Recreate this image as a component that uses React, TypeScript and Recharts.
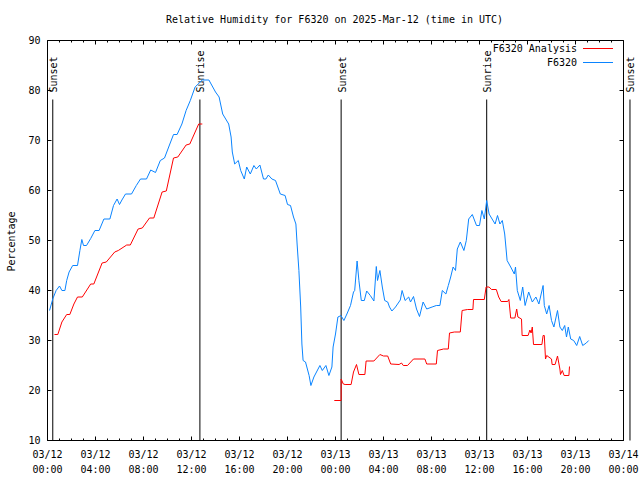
import React from 'react';
import { LineChart, Line, XAxis, YAxis, ReferenceLine, Legend, Label } from 'recharts';

const FONT = '"DejaVu Sans Mono", "Liberation Mono", monospace';

// Observed F6320 (hours since 03/12 00:00 UTC, relative humidity %)
const obsHours = [
  0.17, 0.45, 0.72, 1.0, 1.2, 1.45, 1.6, 1.8, 2.1, 2.5, 2.7, 2.86, 3.0, 3.25, 3.6, 3.95, 4.3, 4.7, 5.2, 5.5,
  5.8, 6.0, 6.2, 6.5, 7.0, 7.4, 7.75, 8.25, 8.6, 9.0, 9.4, 9.75, 10.1, 10.5, 10.8, 11.2, 11.55, 11.9, 12.3, 12.9,
  13.45, 14.0, 14.3, 14.6, 15.1, 15.3, 15.4, 15.6, 15.9, 16.1, 16.4, 16.6, 16.9, 17.2, 17.4, 17.7, 18.0, 18.2, 18.4, 18.7,
  19.0, 19.4, 19.8, 20.0, 20.25, 20.5, 20.7, 20.8, 20.95, 21.1, 21.2, 21.3, 21.5, 21.8, 21.95, 22.2, 22.7, 22.9, 23.2, 23.45,
  23.7, 23.8, 24.0, 24.2, 24.3, 24.45, 24.7, 24.95, 25.25, 25.5, 25.6, 25.8, 25.95, 26.15, 26.4, 26.6, 26.9, 27.2, 27.4, 27.5,
  27.7, 27.9, 28.1, 28.35, 28.5, 28.7, 29.0, 29.4, 29.55, 29.8, 30.1, 30.25, 30.5, 30.75, 31.0, 31.3, 31.6, 32.05, 32.4, 32.7,
  32.9, 33.2, 33.4, 33.6, 33.8, 34.0, 34.15, 34.4, 34.7, 34.9, 35.1, 35.4, 35.75, 36.0, 36.2, 36.4, 36.6, 36.8, 37.05, 37.3,
  37.5, 37.7, 37.9, 38.1, 38.2, 38.3, 38.6, 38.9, 39.0, 39.15, 39.4, 39.6, 39.8, 40.1, 40.4, 40.7, 40.95, 41.3, 41.4, 41.6,
  41.8, 42.0, 42.2, 42.5, 42.7, 42.9, 43.1, 43.25, 43.4, 43.6, 43.85, 44.1, 44.35, 44.6, 44.9, 45.1,
];
const obsValues = [
  36, 38.4, 40, 40.9, 40, 40, 42, 43.7, 45, 45, 48, 50.2, 49, 49, 50.4, 52, 52, 54.3, 54.3, 57,
  58.3, 57.2, 58.1, 59.3, 59.3, 61, 62.3, 62.3, 64.1, 63.6, 66, 66.5, 68.7, 71.2, 71.2, 73.3, 76, 78, 80.7, 82.1,
  82.1, 79.7, 78.7, 75.3, 73.3, 70.7, 67.7, 65.3, 66, 64, 62.3, 64.7, 63.3, 65, 64.3, 65.1, 62.3, 62.3, 63.1, 62.3,
  62, 59.3, 59, 57.2, 57, 54.7, 53.3, 49.3, 44, 36.7, 29.3, 26, 25.7, 23, 21, 22.7, 25, 24, 25, 23,
  24.7, 28.7, 31.3, 34.7, 34.8, 35, 34, 35.3, 37, 39.7, 40, 45.9, 42, 38, 38, 39.9, 39, 37.9, 44.8, 42,
  44, 40.7, 38, 37.7, 36.7, 35.9, 36.7, 38.1, 40, 38, 38.7, 37.7, 38.8, 36.3, 34.8, 37.7, 36.3, 36.7, 37, 37,
  40, 39.3, 41, 42.7, 44.7, 44, 48.3, 49.7, 48, 50, 54.3, 55.2, 53, 53, 56, 54.3, 58, 55.3, 54.3, 53.3,
  55, 53.3, 54, 51.3, 48.7, 46, 44.7, 43.3, 44.7, 40, 38, 40.7, 37, 39.7, 37.7, 38.7, 37.3, 41, 37, 35.3,
  37, 34, 32.7, 36, 32.7, 32, 33, 30.7, 32.7, 30.3, 30, 29, 30.8, 29, 29.5, 30,
];

// F6320 Analysis (null marks the gap in the series)
const anaHours = [
  0.58, 0.86, 1.2, 1.6, 1.86, 2.2, 2.5, 2.9, 3.6, 3.86, 4.55, 4.9, 5.6, 5.9, 6.6, 6.9, 7.55, 7.9, 8.5, 8.86,
  9.55, 9.9, 10.5, 10.86, 11.55, 11.86, 12.6, 12.9, 18.0,
  23.9, 24.47, 24.47, 24.65, 24.8, 25.3, 25.5, 25.75, 25.95, 26.45, 26.55, 27.2, 27.7, 28.0, 28.35, 28.6, 29.3, 29.5, 29.65, 30.0,
  30.5, 31.45, 31.6, 32.4, 32.5, 33.0, 33.4, 33.5, 33.9, 34.4, 34.55, 35.0, 35.45, 35.5, 36.4, 36.55, 36.8, 37.0, 37.4, 37.6,
  37.8, 38.35, 38.45, 38.6, 38.95, 39.1, 39.2, 39.5, 39.55, 40.05, 40.2, 40.3, 40.4, 40.5, 41.2, 41.3, 41.4, 41.5, 41.6, 42.0,
  42.05, 42.3, 42.5, 42.7, 42.75, 42.9, 43.05, 43.45, 43.5,
];
const anaValues: (number | null)[] = [
  31.2, 31.2, 33.7, 35.2, 35.2, 37.3, 38.7, 38.7, 41.3, 41.3, 45.5, 45.7, 47.7, 48, 49.1, 49.1, 52.3, 52.5, 54.5, 54.5,
  59.7, 59.9, 66.5, 66.7, 69.1, 69.3, 73.3, 73.3, null,
  18, 18, 22.3, 21.3, 21.2, 21.2, 23.7, 25.2, 23.2, 23.2, 25.9, 25.9, 27.2, 26.9, 26.9, 25.3, 25.2, 25.5, 25, 25,
  26.3, 26.3, 25.3, 25.3, 28, 28.3, 28.3, 31.5, 31.7, 31.7, 36, 36.2, 36.2, 38.2, 38.2, 40.7, 40.7, 40.2, 40.2, 38.7,
  37.8, 37.8, 38.2, 34.5, 34.5, 36.3, 34.7, 34.3, 31, 31, 32.1, 31.5, 32.7, 29.2, 29.2, 31, 31, 26.3, 27, 26.3,
  25.2, 25.2, 26.9, 24.3, 23.2, 24, 23, 23, 24.8,
];

const seriesNames = ['F6320 Analysis', 'F6320'];
const seriesColors = ['#ff0000', '#0a84ff'];

const xHours = Array.from({ length: 49 }, (_, i) => i);
const tickDates = ['03/12', '03/12', '03/12', '03/12', '03/12', '03/12', '03/13', '03/13', '03/13', '03/13', '03/13', '03/13', '03/14'];
const tickTimes = ['00:00', '04:00', '08:00', '12:00', '16:00', '20:00', '00:00', '04:00', '08:00', '12:00', '16:00', '20:00', '00:00'];
const yTicks = [10, 20, 30, 40, 50, 60, 70, 80, 90];

const sunTimes = [0.44, 12.7, 24.47, 36.6, 48.54];
const sunLabels = ['Sunset', 'Sunrise', 'Sunset', 'Sunrise', 'Sunset'];
const sunLineTop = 78.2;

const title = 'Relative Humidity for F6320 on 2025-Mar-12 (time in UTC)';
const yTitle = 'Percentage';

const obsData = obsHours.map((t, i) => ({ t, v: obsValues[i] }));
const anaData = anaHours.map((t, i) => ({ t, v: anaValues[i] }));

const txt = { fontFamily: FONT, fontSize: 10, fill: '#000' };

function BottomTick(props: any) {
  const { x, y, payload } = props;
  const h = payload.value as number;
  const major = h % 4 === 0;
  const i = h / 4;
  return (
    <g>
      <line x1={x} x2={x} y1={y} y2={y - (major ? 4 : 2)} stroke="#000" />
      {major && (
        <text textAnchor="middle" {...txt}>
          <tspan x={x} y={y + 17}>{tickDates[i]}</tspan>
          <tspan x={x} y={y + 32}>{tickTimes[i]}</tspan>
        </text>
      )}
    </g>
  );
}

function TopTick(props: any) {
  const { x, y, payload } = props;
  const major = (payload.value as number) % 4 === 0;
  return <line x1={x} x2={x} y1={y} y2={y + (major ? 4 : 2)} stroke="#000" />;
}

function LeftTick(props: any) {
  const { x, y, payload } = props;
  return (
    <g>
      <line x1={x} x2={x + 4} y1={y} y2={y} stroke="#000" />
      <text x={x - 7} y={y} dy={3.5} textAnchor="end" {...txt}>{payload.value}</text>
    </g>
  );
}

function RightTick(props: any) {
  const { x, y } = props;
  return <line x1={x} x2={x - 4} y1={y} y2={y} stroke="#000" />;
}

function SunLabel(props: any) {
  const { viewBox, text } = props;
  const x = viewBox.x + 1;
  const y = viewBox.y - 7;
  return (
    <text x={x} y={y} dy="0.35em" transform={`rotate(-90 ${x} ${y})`} textAnchor="start" {...txt}>
      {text}
    </text>
  );
}

function TitleLabel(props: any) {
  const { viewBox } = props;
  const bottom = viewBox.y + viewBox.height;
  return (
    <text x={viewBox.x + viewBox.width / 2 - 1} y={bottom - 17.5} textAnchor="middle" {...txt}>
      {title}
    </text>
  );
}

function YTitle(props: any) {
  const { viewBox } = props;
  const x = viewBox.x + viewBox.width - 36;
  const y = viewBox.y + viewBox.height / 2 + 1;
  return (
    <text x={x} y={y} dy="0.35em" transform={`rotate(-90 ${x} ${y})`} textAnchor="middle" {...txt}>
      {yTitle}
    </text>
  );
}

function LegendBox() {
  return (
    <div style={{ width: 170, fontFamily: FONT, fontSize: 10, color: '#000', lineHeight: '14px' }}>
      {seriesNames.map((n, i) => (
        <div key={n} style={{ position: 'relative', height: 14 }}>
          <span style={{ position: 'absolute', right: 53, top: 0, whiteSpace: 'nowrap' }}>{n}</span>
          <div
            style={{
              position: 'absolute',
              left: 123,
              top: 6,
              width: 30,
              height: 1,
              background: seriesColors[i],
            }}
          />
        </div>
      ))}
    </div>
  );
}

export default function App() {
  return (
    <div style={{ position: 'absolute', left: 0, top: 0, width: 640, height: 480, background: '#fff' }}>
      <LineChart width={640} height={480} margin={{ top: 39.5, right: 15.5, bottom: 38.5, left: 46.5 }}>
        <XAxis
          dataKey="t"
          type="number"
          domain={[0, 48]}
          ticks={xHours}
          interval={0}
          allowDataOverflow
          height={1}
          tickSize={0}
          tickMargin={0}
          tickLine={false}
          axisLine={{ stroke: '#000' }}
          tick={<BottomTick />}
        />
        <XAxis
          xAxisId="top"
          orientation="top"
          dataKey="t"
          type="number"
          domain={[0, 48]}
          ticks={xHours}
          interval={0}
          allowDataOverflow
          height={1}
          tickSize={0}
          tickMargin={0}
          tickLine={false}
          axisLine={false}
          tick={<TopTick />}
        >
          <Label content={<TitleLabel />} />
        </XAxis>
        <YAxis
          type="number"
          domain={[10, 90]}
          ticks={yTicks}
          interval={0}
          allowDataOverflow
          width={1}
          tickSize={0}
          tickMargin={0}
          tickLine={false}
          axisLine={false}
          tick={<LeftTick />}
        >
          <Label content={<YTitle />} />
        </YAxis>
        <YAxis
          yAxisId="right"
          orientation="right"
          type="number"
          domain={[10, 90]}
          ticks={yTicks}
          interval={0}
          allowDataOverflow
          width={1}
          tickSize={0}
          tickMargin={0}
          tickLine={false}
          axisLine={false}
          tick={<RightTick />}
        />
        <ReferenceLine y={90} stroke="#000" strokeWidth={1} />
        <ReferenceLine y={10} stroke="#000" strokeWidth={1} />
        <ReferenceLine x={0} stroke="#000" strokeWidth={1} />
        <ReferenceLine x={48} stroke="#000" strokeWidth={1} />
        {sunTimes.map((t, i) => (
          <ReferenceLine
            key={i}
            segment={[{ x: t, y: 10 }, { x: t, y: sunLineTop }]}
            stroke="#000"
            strokeWidth={1}
            ifOverflow="visible"
            label={<SunLabel text={sunLabels[i]} />}
          />
        ))}
        <Line
          data={anaData}
          dataKey="v"
          name={seriesNames[0]}
          type="linear"
          stroke={seriesColors[0]}
          strokeWidth={1}
          dot={false}
          activeDot={false}
          connectNulls={false}
          isAnimationActive={false}
        />
        <Line
          data={obsData}
          dataKey="v"
          name={seriesNames[1]}
          type="linear"
          stroke={seriesColors[1]}
          strokeWidth={1}
          dot={false}
          activeDot={false}
          isAnimationActive={false}
        />
        <Legend
          layout="vertical"
          align="center"
          verticalAlign="middle"
          content={<LegendBox />}
          wrapperStyle={{ left: 460, top: 42, width: 170, height: 30 }}
        />
      </LineChart>
    </div>
  );
}
